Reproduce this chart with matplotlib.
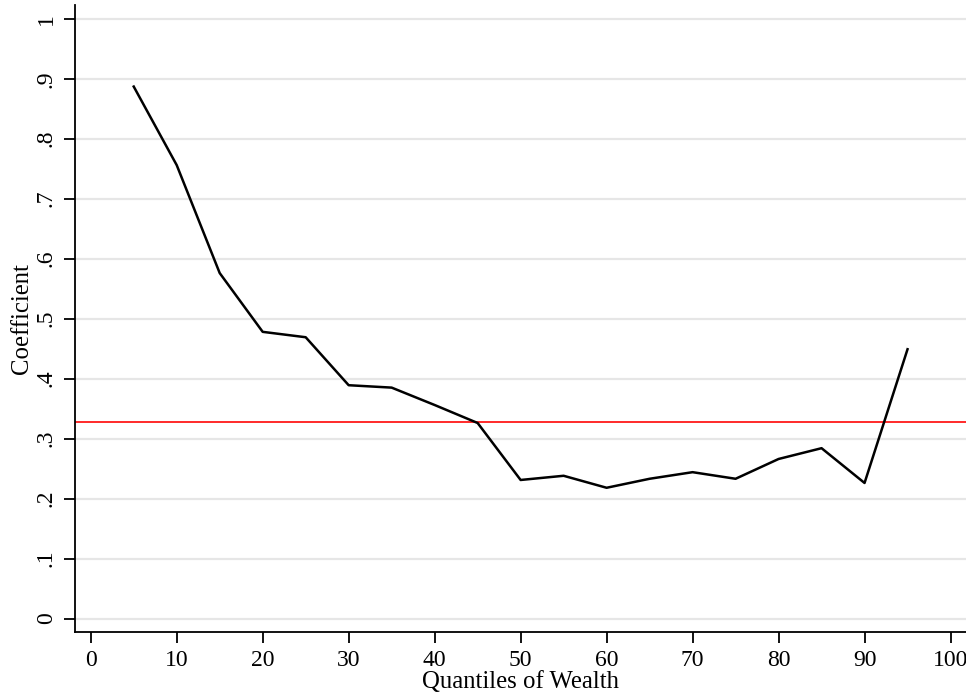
import matplotlib
matplotlib.use("Agg")
import matplotlib.pyplot as plt

# Quantile regression coefficients across the wealth distribution
quantiles = [5, 10, 15, 20, 25, 30, 35, 40, 45, 50, 55, 60, 65, 70, 75, 80, 85, 90, 95]
coefficients = [0.887, 0.756, 0.576, 0.478, 0.469, 0.389, 0.385, 0.356, 0.326,
                0.231, 0.238, 0.218, 0.233, 0.244, 0.233, 0.266, 0.284, 0.226, 0.449]
ols_coefficient = 0.328

x_ticks = [0, 10, 20, 30, 40, 50, 60, 70, 80, 90, 100]
y_ticks = [0, 0.1, 0.2, 0.3, 0.4, 0.5, 0.6, 0.7, 0.8, 0.9, 1.0]
y_tick_labels = ["0", ".1", ".2", ".3", ".4", ".5", ".6", ".7", ".8", ".9", "1"]

plt.rcParams["font.family"] = ["Liberation Serif", "DejaVu Serif"]

fig = plt.figure(figsize=(9.66, 6.98), dpi=100)
ax = fig.add_axes([75 / 966, 66 / 698, 891 / 966, 627 / 698])

ax.set_xlim(-1.83, 101.8)
ax.set_ylim(-0.0225, 1.023)

ax.set_yticks(y_ticks)
ax.set_yticklabels(y_tick_labels, rotation=90, va="center")
ax.set_xticks(x_ticks)

ax.grid(axis="y", color="#e6e6e6", linewidth=1.6)
ax.set_axisbelow(True)

ax.axhline(ols_coefficient, color="#ff2a2a", linewidth=1.4, zorder=2)
ax.plot(quantiles, coefficients, color="black", linewidth=1.8, zorder=3)

for side in ("top", "right"):
    ax.spines[side].set_visible(False)
for side in ("left", "bottom"):
    ax.spines[side].set_linewidth(1.3)

ax.tick_params(axis="both", direction="out", length=8, width=1.3,
               labelsize=17, pad=5)

ax.set_xlabel("Quantiles of Wealth", fontsize=17.8, labelpad=0)
ax.set_ylabel("Coefficient", fontsize=17.8, labelpad=2)

fig.savefig("out.png", dpi=100)
